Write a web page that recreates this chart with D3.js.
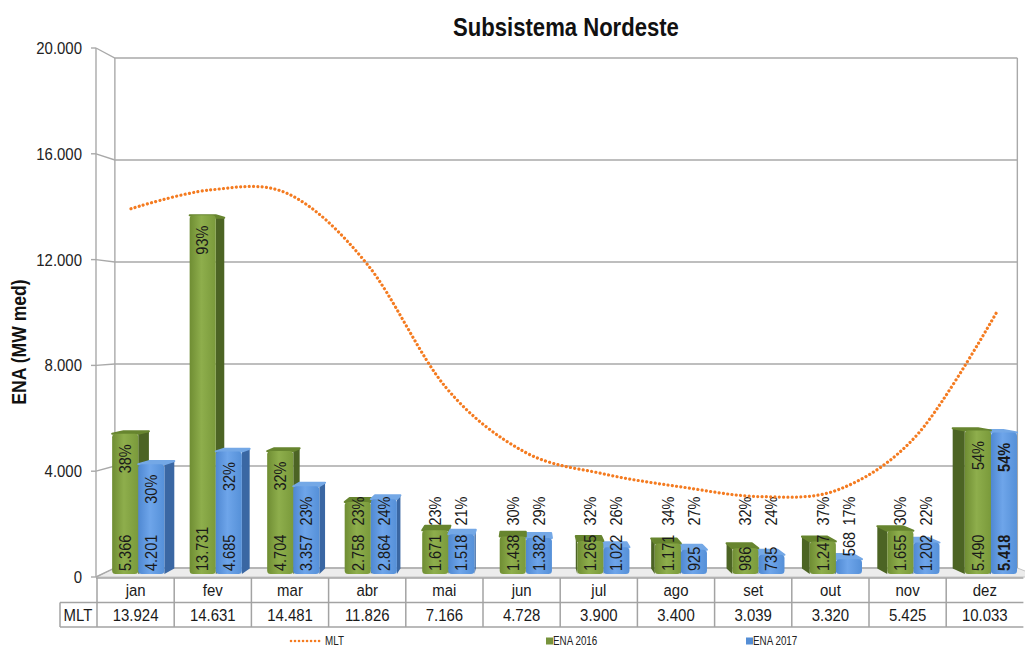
<!DOCTYPE html>
<html>
<head>
<meta charset="utf-8">
<script src="https://cdn.jsdelivr.net/npm/d3@7"></script>
<style>
  html, body { margin: 0; padding: 0; background: #fff; }
  svg { display: block; }
</style>
</head>
<body>
<svg id="chart" width="1025" height="648"></svg>
<script>
// ---- data ----
const months = ["jan", "fev", "mar", "abr", "mai", "jun", "jul", "ago", "set", "out", "nov", "dez"];
const ena2016 = [5366, 13731, 4704, 2758, 1671, 1438, 1265, 1171, 986, 1247, 1655, 5490];
const ena2017 = [4201, 4685, 3357, 2864, 1518, 1382, 1022, 925, 735, 568, 1202, 5418];
const mlt = [13924, 14631, 14481, 11826, 7166, 4728, 3900, 3400, 3039, 3320, 5425, 10033];
const pct2016 = [38, 93, 32, 23, 23, 30, 32, 34, 32, 37, 30, 54];
const pct2017 = [30, 32, 23, 24, 21, 29, 26, 27, 24, 17, 22, 54];
const yTicks = [0, 4000, 8000, 12000, 16000, 20000];
const seriesNames = ["ENA 2016", "ENA 2017"];
const emphasisMonth = "dez";

// ---- setup ----
const FONT = "'Liberation Sans Narrow','Arial Narrow','Liberation Sans',Arial,sans-serif";
const SQ = 0.88; // horizontal squeeze giving a narrow face
const svg = d3.select("#chart");
const ptBR = d3.formatLocale({ decimal: ",", thousands: ".", grouping: [3], currency: ["R$", ""] });
const fmt = ptBR.format(",d");

const plotLeft = 96, plotRight = 1040, plotTop = 48, plotBottom = 577;
const y = d3.scaleLinear().domain([0, 20000]).range([plotBottom, plotTop]);
const xb = d3.scaleBand().domain(months).range([plotLeft, plotRight]);
const xs = d3.scaleBand().domain(seriesNames).range([10, 63]);
const xLine = d3.scalePoint().domain(months).range([131, 997]);
const xTable = d3.scaleBand().domain(months).range([97, 1023.4]);

// narrow text: position, optional rotation, then squeeze along the reading direction
function label(g, x, yy, str, opts = {}) {
  const rot = opts.rotate ? ` rotate(${opts.rotate})` : "";
  return g.append("text")
    .attr("transform", `translate(${x},${yy})${rot} scale(${opts.sq || SQ},1)`)
    .attr("dy", "0.35em")
    .attr("text-anchor", opts.anchor || "middle")
    .attr("font-size", opts.size || 17)
    .attr("font-weight", opts.bold ? "bold" : null)
    .text(str);
}

// simple perspective: depth t in [0,1] pulls points toward a vanishing point
const VX = 525, VY = 326, KX = 0.044, KY = 0.036;
const P = (x, yy, t) => [x + t * KX * (VX - x), yy + t * KY * (VY - yy)];
const poly = pts => "M" + pts.map(p => p[0].toFixed(2) + "," + p[1].toFixed(2)).join("L") + "Z";

const defs = svg.append("defs");
function grad(id, stops) {
  const g = defs.append("linearGradient").attr("id", id).attr("x1", 0).attr("x2", 1).attr("y1", 0).attr("y2", 0);
  stops.forEach(([o, c]) => g.append("stop").attr("offset", o).attr("stop-color", c));
}
grad("gGreen", [[0, "#6f8d33"], [0.45, "#8eae4c"], [1, "#7a9a3b"]]);
grad("gBlue", [[0, "#4f88d2"], [0.45, "#6ea5ea"], [1, "#5590d8"]]);
const colors = {
  "ENA 2016": { front: "url(#gGreen)", side: "#4c6424", top: "#67852f", solid: "#77933c" },
  "ENA 2017": { front: "url(#gBlue)", side: "#3a67a3", top: "#74a8e6", solid: "#558ed5" }
};

const grid = "#a9a9a9";

// ---- walls & floor ----
const floor = [P(plotLeft, plotBottom, 0), P(plotRight, plotBottom, 0), P(plotRight, plotBottom, 1), P(plotLeft, plotBottom, 1)];
svg.append("path").attr("d", poly(floor)).attr("fill", "#ececec").attr("stroke", "#c4c4c4").attr("stroke-width", 1);

const gGrid = svg.append("g").attr("fill", "none").attr("stroke", grid).attr("stroke-width", 1.4);
yTicks.forEach(v => {
  const a = P(plotLeft, y(v), 0), b = P(plotLeft, y(v), 1), c = P(plotRight, y(v), 1);
  gGrid.append("path").attr("d", `M${a[0]},${a[1]}L${b[0]},${b[1]}L${c[0]},${c[1]}`);
  gGrid.append("line").attr("x1", plotLeft - 5).attr("x2", plotLeft).attr("y1", y(v)).attr("y2", y(v));
});
[plotLeft, plotRight].forEach(x => {
  const a = P(x, plotTop, 1), b = P(x, plotBottom, 1);
  gGrid.append("line").attr("x1", a[0]).attr("y1", a[1]).attr("x2", b[0]).attr("y2", b[1]);
});
gGrid.append("line").attr("x1", plotLeft).attr("x2", plotLeft).attr("y1", plotTop).attr("y2", plotBottom);

// y axis labels
const gAx = svg.append("g").attr("font-family", FONT).attr("fill", "#222");
yTicks.forEach(v => label(gAx, 82, y(v), fmt(v), { anchor: "end" }));

const gTitle = svg.append("g").attr("font-family", FONT).attr("fill", "#111");
label(gTitle, 19, 342, "ENA (MW med)", { rotate: -90, size: 20, bold: true });
label(gTitle, 566, 27, "Subsistema Nordeste", { size: 26, bold: true, sq: 0.85 });

// ---- 3D bars ----
const T0 = 0.333, T1 = 0.95;
const bars = [];
months.forEach((m, i) => {
  [[seriesNames[0], ena2016[i], pct2016[i]], [seriesNames[1], ena2017[i], pct2017[i]]].forEach(([s, v, p]) => {
    const x0 = xb(m) + xs(s), x1 = x0 + xs.bandwidth();
    bars.push({ m, s, v, p, x0, x1, cx: (x0 + x1) / 2 });
  });
});
// paint farther-from-centre bars first so inner bars cover their neighbours' sides
bars.sort((a, b) => Math.abs(b.cx - VX) - Math.abs(a.cx - VX));

const gBars = svg.append("g");
bars.forEach(d => {
  const c = colors[d.s];
  const yb = y(0), yt = y(d.v);
  const g = gBars.append("g");
  if (d.x1 < VX) {
    g.append("path").attr("d", poly([P(d.x1, yb, T0), P(d.x1, yt, T0), P(d.x1, yt, T1), P(d.x1, yb, T1)])).attr("fill", c.side);
  } else if (d.x0 > VX) {
    g.append("path").attr("d", poly([P(d.x0, yb, T0), P(d.x0, yt, T0), P(d.x0, yt, T1), P(d.x0, yb, T1)])).attr("fill", c.side);
  }
  g.append("path").attr("d", poly([P(d.x0, yt, T0), P(d.x1, yt, T0), P(d.x1, yt, T1), P(d.x0, yt, T1)]))
    .attr("fill", c.top).attr("stroke", c.top).attr("stroke-width", 2).attr("stroke-linejoin", "round");
  const f0 = P(d.x0, yb, T0), f1 = P(d.x1, yt, T0);
  g.append("rect").attr("x", f0[0]).attr("y", f1[1]).attr("width", f1[0] - f0[0]).attr("height", f0[1] - f1[1])
    .attr("rx", 3.5).attr("fill", c.front);
  d.fx = (f0[0] + f1[0]) / 2; d.fb = f0[1]; d.ft = f1[1];
});

// ---- bar labels (rotated) ----
const gLab = svg.append("g").attr("font-family", FONT).attr("fill", "#1a1a1a");
bars.forEach(d => {
  const bold = d.m === emphasisMonth && d.s === seriesNames[1];
  const h = d.fb - d.ft;
  const vy = h < 17 ? d.ft - 3 : d.fb - 3;
  label(gLab, d.fx, vy, fmt(d.v), { rotate: -90, anchor: "start", size: 16.5, bold });
  const py = Math.min(d.ft + 25, 511);
  label(gLab, d.fx, py, d.p + "%", { rotate: -90, size: 16.5, bold });
});

// ---- MLT line ----
const line = d3.line().x((d, i) => xLine(months[i])).y(d => y(d)).curve(d3.curveCardinal.tension(0));
svg.append("path").datum(mlt).attr("d", line).attr("fill", "none")
  .attr("stroke", "#f47b20").attr("stroke-width", 3.2).attr("stroke-linecap", "round")
  .attr("stroke-dasharray", "0.01 4.3");

// ---- data table ----
const tTop = 578, tMid = 602.5, tBot = 627, tLeft = 60, tRight = xTable.range()[1];
const gT = svg.append("g").attr("stroke", "#a3a3a3").attr("stroke-width", 1.5);
gT.append("line").attr("x1", 96).attr("x2", tRight).attr("y1", tTop).attr("y2", tTop);
gT.append("line").attr("x1", tLeft).attr("x2", tRight).attr("y1", tMid).attr("y2", tMid);
gT.append("line").attr("x1", tLeft).attr("x2", tRight).attr("y1", tBot).attr("y2", tBot);
gT.append("line").attr("x1", tLeft).attr("x2", tLeft).attr("y1", tMid).attr("y2", tBot);
months.forEach(m => {
  gT.append("line").attr("x1", xTable(m)).attr("x2", xTable(m)).attr("y1", tTop).attr("y2", tBot);
});
const gTT = svg.append("g").attr("font-family", FONT).attr("fill", "#1a1a1a");
months.forEach((m, i) => {
  const cx = xTable(m) + xTable.bandwidth() / 2;
  label(gTT, cx, (tTop + tMid) / 2, m);
  label(gTT, cx, (tMid + tBot) / 2 + 0.5, fmt(mlt[i]));
});
label(gTT, (tLeft + 96) / 2, (tMid + tBot) / 2 + 0.5, "MLT");

// ---- legend ----
const gL = svg.append("g").attr("font-family", FONT).attr("fill", "#222");
gL.append("line").attr("x1", 291).attr("x2", 321).attr("y1", 641).attr("y2", 641)
  .attr("stroke", "#f47b20").attr("stroke-width", 2.6).attr("stroke-linecap", "round").attr("stroke-dasharray", "0.01 4");
label(gL, 325, 641, "MLT", { anchor: "start", size: 12, sq: 0.82 });
[[seriesNames[0], 546], [seriesNames[1], 746]].forEach(([s, x]) => {
  gL.append("rect").attr("x", x).attr("y", 637.5).attr("width", 7).attr("height", 7).attr("fill", colors[s].solid);
  label(gL, x + 7, 641, s, { anchor: "start", size: 12, sq: 0.82 });
});
</script>
</body>
</html>
